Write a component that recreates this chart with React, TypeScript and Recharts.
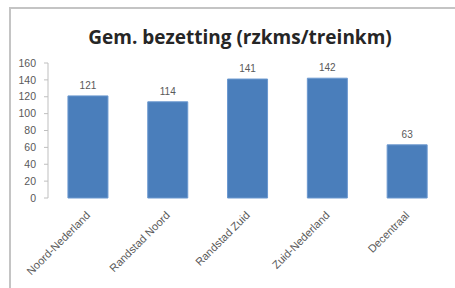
import { Bar, BarChart, LabelList, XAxis, YAxis } from "recharts";

const regions = ["Noord-Nederland", "Randstad Noord", "Randstad Zuid", "Zuid-Nederland", "Decentraal"];
const occupancy = [121, 114, 141, 142, 63];
const yTicks = [0, 20, 40, 60, 80, 100, 120, 140, 160];
const edgeTicks = [0, 1, 2, 3, 4, 5];

const data = regions.map((name, i) => ({ name, value: occupancy[i] }));

const grey = "#595959";
const axisGrey = "#bfbfbf";

function RegionTick({ x, y, payload }: any) {
  return (
    <text
      x={x + 3}
      y={y + 10}
      transform={`rotate(-45, ${x + 3}, ${y + 10})`}
      textAnchor="end"
      fontSize={11}
      fill={grey}
      fontFamily="Liberation Sans, Arial, sans-serif"
    >
      {payload.value}
    </text>
  );
}

export default function App() {
  return (
    <div style={{ position: "absolute", left: 0, top: 0, width: 455, height: 288, background: "#fff", overflow: "hidden" }}>
      <div style={{ position: "absolute", left: 9, top: 7, right: 0, height: 2, background: "#c4c4c4" }} />
      <div style={{ position: "absolute", left: 9, top: 7, bottom: 0, width: 2, background: "#c4c4c4" }} />
      <div
        style={{
          position: "absolute",
          left: 0,
          width: 480,
          top: 22,
          textAlign: "center",
          fontFamily: "Open Sans, sans-serif",
          fontWeight: 700,
          fontSize: 19,
          color: "#262626",
          lineHeight: "30px",
        }}
      >
        Gem. bezetting (rzkms/treinkm)
      </div>
      <BarChart
        width={455}
        height={288}
        data={data}
        margin={{ top: 63, right: 8, left: 10, bottom: 5 }}
        barCategoryGap="25%"
        style={{ position: "absolute", left: 0, top: 0 }}
      >
        <XAxis
          xAxisId="edges"
          type="number"
          domain={[0, 5]}
          ticks={edgeTicks}
          tick={false}
          height={0}
          axisLine={{ stroke: axisGrey }}
          tickLine={{ stroke: axisGrey }}
          tickSize={4}
        />
        <XAxis
          dataKey="name"
          interval={0}
          axisLine={false}
          tickLine={false}
          height={85}
          tick={<RegionTick />}
        />
        <YAxis
          domain={[0, 160]}
          ticks={yTicks}
          width={38}
          axisLine={{ stroke: axisGrey }}
          tickLine={{ stroke: axisGrey }}
          tickSize={4}
          tick={{ fill: grey, fontSize: 10.5, fontFamily: "Liberation Sans, Arial, sans-serif", dx: -6 }}
        />
        <Bar dataKey="value" fill="#4A7EBB" stroke="#6b98cf" strokeWidth={1} isAnimationActive={false}>
          <LabelList dataKey="value" position="top" offset={7} fill={grey} fontSize={10} fontFamily="Liberation Sans, Arial, sans-serif" />
        </Bar>
      </BarChart>
    </div>
  );
}
